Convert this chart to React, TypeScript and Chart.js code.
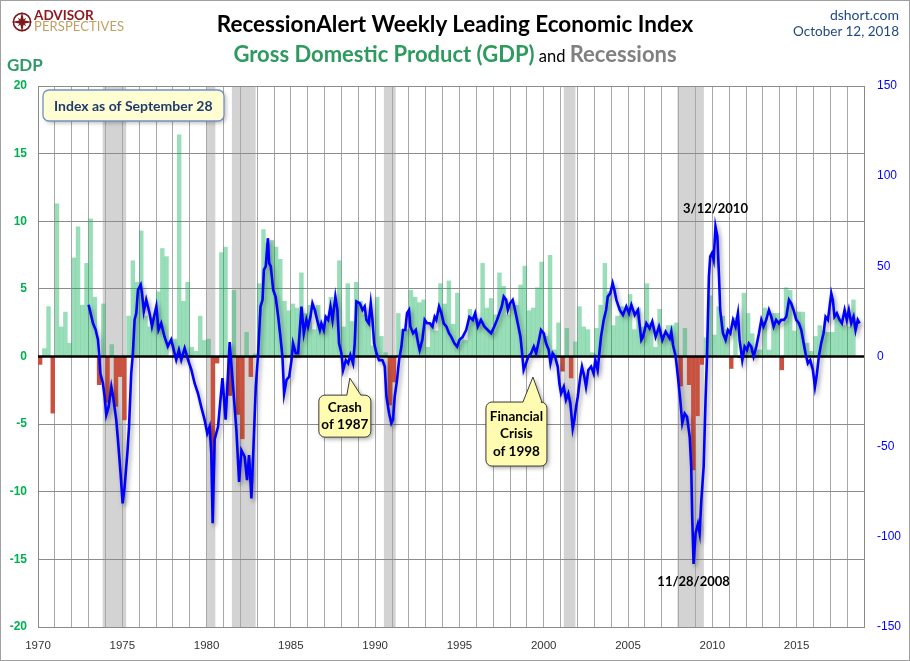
import React, { useEffect, useRef } from 'react';
import { Chart, registerables } from 'chart.js';

Chart.register(...registerables);

// ---------------- DATA ----------------
const GDP_START_YEAR = 1970; // first quarter shown: 1970 Q1
// Real GDP, quarterly % change (annualized), 1970 Q1 .. 2018 Q2
const gdpGrowth: number[] = [
  -0.6, 0.6, 3.7, -4.2, // 1970
  11.3, 2.2, 3.3, 1.0, // 1971
  7.3, 9.6, 3.8, 6.9, // 1972
  10.2, 4.4, -2.1, 3.9, // 1973
  -3.4, 0.9, -3.7, -1.5, // 1974
  -4.7, 3.0, 7.1, 5.5, // 1975
  9.3, 3.0, 2.2, 2.9, // 1976
  4.8, 8.0, 7.4, 0.0, // 1977
  1.3, 16.4, 4.1, 5.5, // 1978
  0.7, 0.4, 3.0, 1.2, // 1979
  1.3, -8.0, -0.5, 7.7, // 1980
  8.1, -2.9, 4.9, -4.3, // 1981
  -6.1, 1.8, -1.5, 0.2, // 1982
  5.4, 9.4, 8.4, 8.6, // 1983
  8.1, 7.2, 4.1, 3.4, // 1984
  3.9, 3.6, 6.2, 3.2, // 1985
  3.8, 2.0, 3.8, 2.2, // 1986
  3.0, 4.4, 3.6, 7.1, // 1987
  2.2, 5.4, 2.6, 5.5, // 1988
  4.1, 3.1, 3.0, 0.8, // 1989
  4.4, 1.5, 0.3, -3.6, // 1990
  -1.9, 3.2, 2.0, 2.0, // 1991
  4.9, 4.4, 4.0, 4.2, // 1992
  0.7, 2.5, 1.9, 5.4, // 1993
  3.9, 5.6, 2.4, 4.7, // 1994
  1.4, 1.2, 3.5, 3.0, // 1995
  2.8, 6.9, 3.6, 4.3, // 1996
  3.1, 6.2, 5.2, 3.1, // 1997
  4.0, 3.8, 5.3, 6.7, // 1998
  3.4, 3.6, 5.1, 7.0, // 1999
  1.5, 7.5, 0.5, 2.5, // 2000
  -1.1, 2.1, -1.6, 1.1, // 2001
  3.7, 2.2, 2.0, 0.3, // 2002
  2.1, 3.8, 6.9, 4.8, // 2003
  2.3, 3.0, 3.7, 3.6, // 2004
  4.6, 2.0, 3.6, 2.2, // 2005
  5.4, 2.5, 0.7, 3.5, // 2006
  1.5, 2.3, 2.3, 2.5, // 2007
  -2.2, 2.1, -2.1, -8.4, // 2008
  -4.4, -0.6, 1.4, 4.5, // 2009
  1.6, 3.7, 3.0, 2.0, // 2010
  -0.9, 2.9, -0.1, 4.7, // 2011
  3.2, 1.7, 0.5, 0.5, // 2012
  3.6, 0.5, 3.2, 3.2, // 2013
  -1.0, 5.1, 4.9, 1.9, // 2014
  3.3, 3.3, 1.0, 0.4, // 2015
  1.5, 2.3, 1.9, 1.8, // 2016
  1.8, 3.0, 2.8, 2.3, // 2017
  2.2, 4.2, // 2018
];

// RecessionAlert Weekly Leading Economic Index
const indexDates: number[] = [
  1973.0, 1973.26, 1973.42, 1973.56, 1973.62, 1973.7, 1973.85, 1973.95, 1974.05, 1974.19,
  1974.35, 1974.45, 1974.64, 1974.74, 1974.9, 1975.02, 1975.14, 1975.3, 1975.4, 1975.53,
  1975.63, 1975.73, 1975.83, 1975.93, 1976.09, 1976.17, 1976.28, 1976.42, 1976.62, 1976.76,
  1977.02, 1977.15, 1977.31, 1977.5, 1977.7, 1977.9, 1978.2, 1978.36, 1978.5, 1978.7,
  1978.9, 1979.1, 1979.29, 1979.49, 1979.68, 1979.88, 1980.04, 1980.18, 1980.28, 1980.36,
  1980.48, 1980.68, 1980.94, 1981.13, 1981.37, 1981.6, 1981.77, 1981.93, 1982.07, 1982.26,
  1982.4, 1982.52, 1982.66, 1982.76, 1982.92, 1983.06, 1983.2, 1983.32, 1983.4, 1983.51,
  1983.64, 1983.71, 1983.81, 1983.95, 1984.1, 1984.25, 1984.38, 1984.5, 1984.6, 1984.74,
  1984.9, 1985.04, 1985.13, 1985.29, 1985.43, 1985.53, 1985.63, 1985.77, 1985.92, 1986.02,
  1986.16, 1986.28, 1986.42, 1986.56, 1986.72, 1986.81, 1986.95, 1987.07, 1987.21, 1987.35,
  1987.47, 1987.64, 1987.76, 1987.86, 1988.0, 1988.1, 1988.26, 1988.4, 1988.53, 1988.69,
  1988.79, 1988.89, 1989.09, 1989.25, 1989.38, 1989.48, 1989.62, 1989.74, 1989.84, 1989.94,
  1990.08, 1990.23, 1990.43, 1990.57, 1990.67, 1990.83, 1990.96, 1991.06, 1991.16, 1991.3,
  1991.42, 1991.56, 1991.66, 1991.79, 1991.89, 1992.01, 1992.09, 1992.25, 1992.41, 1992.55,
  1992.64, 1992.8, 1992.94, 1993.08, 1993.24, 1993.4, 1993.53, 1993.63, 1993.79, 1993.93,
  1994.07, 1994.23, 1994.38, 1994.51, 1994.7, 1994.86, 1995.0, 1995.2, 1995.4, 1995.59,
  1995.79, 1995.93, 1996.09, 1996.28, 1996.48, 1996.68, 1996.88, 1997.07, 1997.23, 1997.37,
  1997.51, 1997.63, 1997.77, 1997.87, 1998.0, 1998.16, 1998.3, 1998.46, 1998.62, 1998.7,
  1998.81, 1998.95, 1999.09, 1999.25, 1999.41, 1999.55, 1999.68, 1999.84, 2000.0, 2000.14,
  2000.3, 2000.4, 2000.53, 2000.67, 2000.83, 2000.93, 2001.03, 2001.19, 2001.32, 2001.46,
  2001.58, 2001.72, 2001.82, 2001.92, 2002.02, 2002.17, 2002.27, 2002.41, 2002.51, 2002.65,
  2002.81, 2002.96, 2003.06, 2003.2, 2003.3, 2003.4, 2003.56, 2003.7, 2003.8, 2003.95,
  2004.09, 2004.19, 2004.31, 2004.51, 2004.7, 2004.9, 2005.06, 2005.2, 2005.4, 2005.59,
  2005.79, 2005.89, 2006.09, 2006.28, 2006.44, 2006.64, 2006.84, 2007.04, 2007.23, 2007.47,
  2007.57, 2007.67, 2007.83, 2007.96, 2008.1, 2008.22, 2008.36, 2008.5, 2008.66, 2008.75,
  2008.81, 2008.89, 2009.01, 2009.15, 2009.25, 2009.35, 2009.49, 2009.6, 2009.68, 2009.8,
  2009.88, 2009.98, 2010.08, 2010.19, 2010.3, 2010.4, 2010.47, 2010.63, 2010.79, 2010.93,
  2011.07, 2011.23, 2011.38, 2011.52, 2011.62, 2011.78, 2011.92, 2012.06, 2012.17, 2012.31,
  2012.45, 2012.61, 2012.77, 2012.91, 2013.04, 2013.2, 2013.36, 2013.5, 2013.64, 2013.79,
  2013.95, 2014.09, 2014.25, 2014.39, 2014.55, 2014.68, 2014.82, 2014.98, 2015.14, 2015.28,
  2015.42, 2015.53, 2015.67, 2015.81, 2015.97, 2016.09, 2016.21, 2016.32, 2016.46, 2016.6,
  2016.72, 2016.86, 2016.96, 2017.06, 2017.15, 2017.25, 2017.39, 2017.55, 2017.69, 2017.85,
  2017.98, 2018.1, 2018.24, 2018.38, 2018.5, 2018.63, 2018.74,
];
const indexValues: number[] = [
  28.7, 18.5, 14.8, 9.3, 1.9, -9.3, -14.8, -22, -32.4, -27.8,
  -16.7, -22, -35, -46, -65, -81.5, -72, -53.7, -39, -9.3,
  1.9, 20.4, 24, 37, 39.8, 35, 25, 31.5, 24, 16.7,
  27.8, 14.8, 18.5, 11.1, 5.6, 9.3, -1.9, 3.7, -1.9, 4.6,
  -1.9, -7.4, -14.8, -20.4, -27.8, -35, -42.6, -38.9, -53.7, -92.5,
  -46, -39, -12, -35, 8, -20, -41, -69.5, -52, -55.6,
  -68.6, -54.7, -78.7, -55.6, -16.8, 1.8, 27.7, 31.4, 48, 50,
  65.6, 51.8, 50, 37, 33, 22, 11, 0, -20.5, -13,
  -11.2, -2, 7.3, 1.8, 1.8, 14.7, 27.7, 12.9, 20.3, 16.6,
  22, 29.5, 25.8, 20.3, 14.7, 18.4, 14.7, 22, 20.3, 27.7,
  20.3, 33.2, 25.8, 7.3, 1.8, -7.5, -2, -3.8, 0.8, -3.8,
  7.3, 30.5, 29.5, 25.8, 27.7, 20.3, 18.4, 29.5, 20.3, 7.3,
  1.8, -2, -2, -5.5, -22.3, -31.6, -37, -35, -22.3, -13,
  -2, 5.5, 14.7, 14.7, 24, 25.8, 16.6, 12.9, 14.7, 7.3,
  3.6, 9.2, 20.3, 18.4, 18.4, 16.6, 22, 20.3, 27.7, 24,
  18.4, 16.6, 12.9, 11, 7.3, 5.5, 9.2, 11, 14.7, 22,
  20.3, 24, 16.6, 20.3, 16.6, 14.7, 12.9, 16.6, 20.3, 24,
  27.7, 33.2, 31.4, 25.8, 29.5, 31.4, 25.8, 18.4, 11, 3.6,
  -7.5, -3.8, 0, 1.8, 5.5, 1.8, 7.3, 14.7, 12.9, 7.3,
  3.6, -3.8, 1.8, 0, -5.6, -15, -20.5, -16.8, -24, -20.5,
  -26, -40, -35, -28, -22.3, -11.2, -5.6, -11.2, -16.8, -7.5,
  -5.6, -9.4, -2, -7.5, 1.8, 11, 20.3, 25.8, 33.2, 35,
  40.6, 37, 31.4, 25.8, 23, 27.7, 24, 28.6, 23, 25.8,
  9.2, 11, 18.4, 15.6, 19.4, 11, 16.6, 9.2, 13.8, 10,
  13.8, 6.4, 0, -11.2, -24, -37, -31.6, -33.4, -44.5, -61,
  -89, -115, -98, -92.7, -98, -79.7, -61, -24, -2, 44.4,
  55.5, 57.3, 53.6, 72.1, 66.6, 44.4, 25.8, 12.9, 9.2, 14.7,
  12.9, 20.3, 16.6, 24, 9.2, -2, 5.5, 3.6, 7.3, 5.5,
  0, 5.5, 12.9, 20.3, 16.6, 20.3, 25.8, 22, 16.6, 20.3,
  18.4, 20.3, 20.3, 22, 31.4, 29.5, 25.8, 20.3, 18.4, 14.7,
  7.3, 1.8, -3.8, -2, -7.5, -16.8, -9.4, 0, 7.3, 12.9,
  22, 20.3, 27.7, 35, 31.4, 22, 24, 20.3, 18.4, 25.8,
  20.3, 25.8, 18.4, 22, 14.7, 20.3, 18.4,
];

// NBER recessions (decimal years)
const recessionStarts: number[] = [1973.84, 1980.0, 1981.5, 1990.52, 2001.19, 2007.93];
const recessionEnds: number[] = [1975.23, 1980.52, 1982.91, 1991.22, 2001.88, 2009.5];

// Axes
const X_MIN = 1970;
const X_MAX = 2019;
const X_LABEL_EVERY = 5;
const GDP_MIN = -20;
const GDP_MAX = 20;
const GDP_STEP = 5;
const IDX_MIN = -150;
const IDX_MAX = 150;
const IDX_STEP = 50;

// Texts / annotation anchors
const infoText = 'Index as of September 28';
const peakLabel = '3/12/2010';
const troughLabel = '11/28/2008';
const crashLines = ['Crash', 'of 1987'];
const crashAnchor = { date: 1988.5, value: -12 };
const crisisLines = ['Financial', 'Crisis', 'of 1998'];
const crisisAnchor = { date: 1999.36, value: -11.4 };

// ---------------- STYLE ----------------
const SANS = 'Lato, "Open Sans", "DejaVu Sans", sans-serif';
const TICKF = '"Liberation Sans", Arial, sans-serif';

function roundedBoxPath(
  ctx: CanvasRenderingContext2D,
  x: number, y: number, w: number, h: number, r: number,
  pointer?: { tipX: number; tipY: number; l: number; rr: number }
) {
  ctx.beginPath();
  ctx.moveTo(x + r, y);
  if (pointer) {
    ctx.lineTo(pointer.tipX + pointer.l, y);
    ctx.lineTo(pointer.tipX, pointer.tipY);
    ctx.lineTo(pointer.tipX + pointer.rr, y);
  }
  ctx.lineTo(x + w - r, y);
  ctx.arcTo(x + w, y, x + w, y + r, r);
  ctx.lineTo(x + w, y + h - r);
  ctx.arcTo(x + w, y + h, x + w - r, y + h, r);
  ctx.lineTo(x + r, y + h);
  ctx.arcTo(x, y + h, x, y + h - r, r);
  ctx.lineTo(x, y + r);
  ctx.arcTo(x, y, x + r, y, r);
  ctx.closePath();
}

function drawCallout(
  ctx: CanvasRenderingContext2D,
  tipX: number, tipY: number,
  box: { dx: number; dy: number; w: number; h: number; l: number; r: number },
  lines: string[]
) {
  const bx = tipX + box.dx;
  const by = tipY + box.dy;
  ctx.save();
  roundedBoxPath(ctx, bx, by, box.w, box.h, 6, { tipX, tipY, l: box.l, rr: box.r });
  ctx.shadowColor = 'rgba(0,0,0,0.35)';
  ctx.shadowBlur = 4;
  ctx.shadowOffsetX = 2;
  ctx.shadowOffsetY = 2;
  ctx.fillStyle = '#fffbb0';
  ctx.fill();
  ctx.shadowColor = 'rgba(0,0,0,0)';
  ctx.strokeStyle = '#3a3a3a';
  ctx.lineWidth = 1;
  ctx.stroke();
  ctx.fillStyle = '#000';
  ctx.font = `bold 13.5px ${SANS}`;
  ctx.textAlign = 'center';
  ctx.textBaseline = 'middle';
  const lh = 17.6;
  const cy = by + box.h / 2 - ((lines.length - 1) * lh) / 2;
  lines.forEach((t, i) => ctx.fillText(t, bx + box.w / 2, cy + i * lh));
  ctx.restore();
}

const decorPlugin = {
  id: 'decor',
  beforeDraw(chart: any) {
    const { ctx, chartArea: a, scales } = chart;
    ctx.save();
    ctx.fillStyle = '#d3d3d3';
    recessionStarts.forEach((s, i) => {
      const x0 = scales.x.getPixelForValue(s);
      const x1 = scales.x.getPixelForValue(recessionEnds[i]);
      ctx.fillRect(x0, a.top, x1 - x0, a.bottom - a.top);
    });
    ctx.restore();
  },
  beforeDatasetDraw(chart: any, args: any) {
    if (args.meta.type === 'line') {
      const ctx = chart.ctx;
      ctx.save();
      ctx.shadowColor = 'rgba(0,0,0,0.38)';
      ctx.shadowBlur = 4;
      ctx.shadowOffsetX = 2;
      ctx.shadowOffsetY = 3;
    }
  },
  afterDatasetDraw(chart: any, args: any) {
    const { ctx, chartArea: a, scales } = chart;
    if (args.meta.type === 'line') {
      ctx.restore();
    } else {
      const y0 = scales.y.getPixelForValue(0);
      ctx.save();
      ctx.strokeStyle = '#000';
      ctx.lineWidth = 2.6;
      ctx.beginPath();
      ctx.moveTo(a.left, y0);
      ctx.lineTo(a.right, y0);
      ctx.stroke();
      ctx.restore();
    }
  },
  afterDraw(chart: any) {
    const { ctx, chartArea: a, scales } = chart;
    const sx = scales.x;
    const sy = scales.y2;

    // info box
    ctx.save();
    const ix = a.left + 5;
    const iy = a.top + 4;
    roundedBoxPath(ctx, ix, iy, 181, 31, 6);
    ctx.shadowColor = 'rgba(0,0,0,0.28)';
    ctx.shadowBlur = 4;
    ctx.shadowOffsetX = 2;
    ctx.shadowOffsetY = 2;
    ctx.fillStyle = '#fffdd2';
    ctx.fill();
    ctx.shadowColor = 'rgba(0,0,0,0)';
    ctx.strokeStyle = '#7393c3';
    ctx.lineWidth = 1.3;
    ctx.stroke();
    ctx.fillStyle = '#1f3b6b';
    ctx.font = `bold 14px ${SANS}`;
    ctx.textAlign = 'left';
    ctx.textBaseline = 'middle';
    ctx.fillText(infoText, ix + 11, iy + 16);
    ctx.restore();

    // peak / trough labels
    let iMax = 0;
    let iMin = 0;
    indexValues.forEach((v, i) => {
      if (v > indexValues[iMax]) iMax = i;
      if (v < indexValues[iMin]) iMin = i;
    });
    ctx.save();
    ctx.font = `bold 13px ${SANS}`;
    ctx.fillStyle = '#000';
    ctx.textAlign = 'center';
    ctx.textBaseline = 'middle';
    ctx.fillText(peakLabel, sx.getPixelForValue(indexDates[iMax]), sy.getPixelForValue(indexValues[iMax]) - 18);
    ctx.fillText(troughLabel, sx.getPixelForValue(indexDates[iMin]), sy.getPixelForValue(indexValues[iMin]) + 18);
    ctx.restore();

    // callouts
    drawCallout(
      ctx,
      sx.getPixelForValue(crashAnchor.date),
      sy.getPixelForValue(crashAnchor.value),
      { dx: -31, dy: 17, w: 52, h: 42, l: -3, r: 11 },
      crashLines
    );
    drawCallout(
      ctx,
      sx.getPixelForValue(crisisAnchor.date),
      sy.getPixelForValue(crisisAnchor.value),
      { dx: -47, dy: 25, w: 61, h: 64, l: -10, r: 9 },
      crisisLines
    );
  },
};

function ChartCanvas() {
  const ref = useRef<HTMLCanvasElement | null>(null);
  useEffect(() => {
    if (!ref.current) return;
    const barData = gdpGrowth.map((v, i) => ({ x: GDP_START_YEAR + i / 4 + 0.125, y: v }));
    const lineData = indexDates.map((d, i) => ({ x: d, y: indexValues[i] }));
    const chart = new Chart(ref.current, {
      type: 'bar',
      data: {
        datasets: [
          {
            type: 'line',
            data: lineData as any,
            borderColor: '#0000ff',
            borderWidth: 2.6,
            pointRadius: 0,
            tension: 0,
            fill: false,
            yAxisID: 'y2',
            xAxisID: 'x',
            order: 0,
          } as any,
          {
            type: 'bar',
            data: barData as any,
            backgroundColor: gdpGrowth.map((v) => (v >= 0 ? 'rgba(12,176,86,0.42)' : '#c8513f')),
            borderWidth: 0,
            barPercentage: 1,
            categoryPercentage: 1,
            inflateAmount: 0.12,
            yAxisID: 'y',
            xAxisID: 'x',
            order: 1,
          } as any,
        ],
      },
      options: {
        responsive: false,
        animation: false,
        events: [],
        layout: { padding: { top: 86, left: 0, right: 0, bottom: 0 } },
        plugins: { legend: { display: false }, tooltip: { enabled: false } },
        scales: {
          x: {
            type: 'linear',
            min: X_MIN,
            max: X_MAX,
            offset: false,
            afterFit: (s: any) => { s.height = 34; },
            grid: { color: '#a8a8a8', lineWidth: 1, drawTicks: false, offset: false },
            border: { display: true, color: '#8a8a8a', width: 1 },
            ticks: {
              stepSize: 1,
              autoSkip: false,
              maxRotation: 0,
              minRotation: 0,
              padding: 12,
              color: '#333333',
              font: { family: TICKF, size: 11.5 },
              callback: (v: any) => (Number(v) % X_LABEL_EVERY === 0 ? String(v) : ''),
            },
          } as any,
          y: {
            type: 'linear',
            position: 'left',
            min: GDP_MIN,
            max: GDP_MAX,
            afterFit: (s: any) => { s.width = 38; },
            grid: {
              color: (c: any) => (c.tick && c.tick.value === 0 ? 'rgba(0,0,0,0)' : '#8c8c8c'),
              drawTicks: false,
            },
            border: { display: true, color: '#8a8a8a', width: 1 },
            ticks: {
              stepSize: GDP_STEP,
              padding: 11,
              color: '#00b050',
              font: { family: TICKF, size: 12, weight: 'bold' },
            },
          } as any,
          y2: {
            type: 'linear',
            position: 'right',
            min: IDX_MIN,
            max: IDX_MAX,
            afterFit: (s: any) => { s.width = 46; },
            grid: { display: false, drawTicks: false },
            border: { display: true, color: '#8a8a8a', width: 1 },
            ticks: {
              stepSize: IDX_STEP,
              padding: 13,
              color: '#0000ff',
              font: { family: TICKF, size: 12 },
            },
          } as any,
        },
      } as any,
      plugins: [decorPlugin as any],
    });
    return () => chart.destroy();
  }, []);
  return (
    <canvas
      ref={ref}
      width={910}
      height={661}
      style={{ position: 'absolute', left: 0, top: 0, width: 910, height: 661 }}
    />
  );
}

function Logo() {
  return (
    <>
      <svg
        width={22}
        height={22}
        viewBox="-11 -11 22 22"
        style={{ position: 'absolute', left: 11, top: 11 }}
      >
        <circle r={8.6} fill="none" stroke="#7a1a1e" strokeWidth={1.6} />
        <polygon points="0,-10.5 1.8,-1.8 10.5,0 1.8,1.8 0,10.5 -1.8,1.8 -10.5,0 -1.8,-1.8" fill="#7a1a1e" />
        <polygon
          points="0,-6 1.3,-1.3 6,0 1.3,1.3 0,6 -1.3,1.3 -6,0 -1.3,-1.3"
          fill="#7a1a1e"
          transform="rotate(45)"
        />
      </svg>
      <div
        style={{
          position: 'absolute', left: 34, top: 8.5, fontFamily: SANS, fontWeight: 700,
          fontSize: 13.5, lineHeight: '13.5px', color: '#8e1b20', whiteSpace: 'nowrap',
        }}
      >
        ADVISOR
      </div>
      <div
        style={{
          position: 'absolute', left: 34, top: 19.5, fontFamily: SANS, fontWeight: 400,
          fontSize: 13, lineHeight: '13px', color: '#bf9f62', whiteSpace: 'nowrap', letterSpacing: 0.1,
        }}
      >
        PERSPECTIVES
      </div>
    </>
  );
}

export default function App() {
  return (
    <div
      style={{
        position: 'absolute', left: 0, top: 0, width: 910, height: 661,
        background: '#ffffff', overflow: 'hidden',
      }}
    >
      <ChartCanvas />
      <Logo />
      <div
        style={{
          position: 'absolute', left: 0, top: 12.5, width: 910, textAlign: 'center',
          fontFamily: SANS, fontWeight: 700, fontSize: 22.5, lineHeight: '22.5px', color: '#000',
          whiteSpace: 'nowrap',
        }}
      >
        RecessionAlert Weekly Leading Economic Index
      </div>
      <div
        style={{
          position: 'absolute', left: 0, top: 43, width: 910, textAlign: 'center',
          fontFamily: SANS, lineHeight: '22px', whiteSpace: 'nowrap',
        }}
      >
        <span style={{ fontWeight: 700, fontSize: 22, color: '#2f9a5e' }}>Gross Domestic Product (GDP)</span>
        <span style={{ fontWeight: 400, fontSize: 16.5, color: '#000' }}> and </span>
        <span style={{ fontWeight: 700, fontSize: 22, color: '#808080' }}>Recessions</span>
      </div>
      <div
        style={{
          position: 'absolute', right: 11, top: 8, textAlign: 'right', fontFamily: SANS,
          fontSize: 14, lineHeight: '14px', color: '#1f497d', whiteSpace: 'nowrap',
        }}
      >
        dshort.com
      </div>
      <div
        style={{
          position: 'absolute', right: 11, top: 25, textAlign: 'right', fontFamily: SANS,
          fontSize: 13.5, lineHeight: '13.5px', color: '#1f497d', whiteSpace: 'nowrap',
        }}
      >
        October 12, 2018
      </div>
      <div
        style={{
          position: 'absolute', left: 7, top: 55.5, fontFamily: SANS, fontWeight: 700,
          fontSize: 17, lineHeight: '17px', color: '#2e9a6a', whiteSpace: 'nowrap',
        }}
      >
        GDP
      </div>
      <div
        style={{
          position: 'absolute', left: 0, top: 0, width: 910, height: 661, boxSizing: 'border-box',
          border: '1px solid #a0a0a0', pointerEvents: 'none',
        }}
      />
    </div>
  );
}
